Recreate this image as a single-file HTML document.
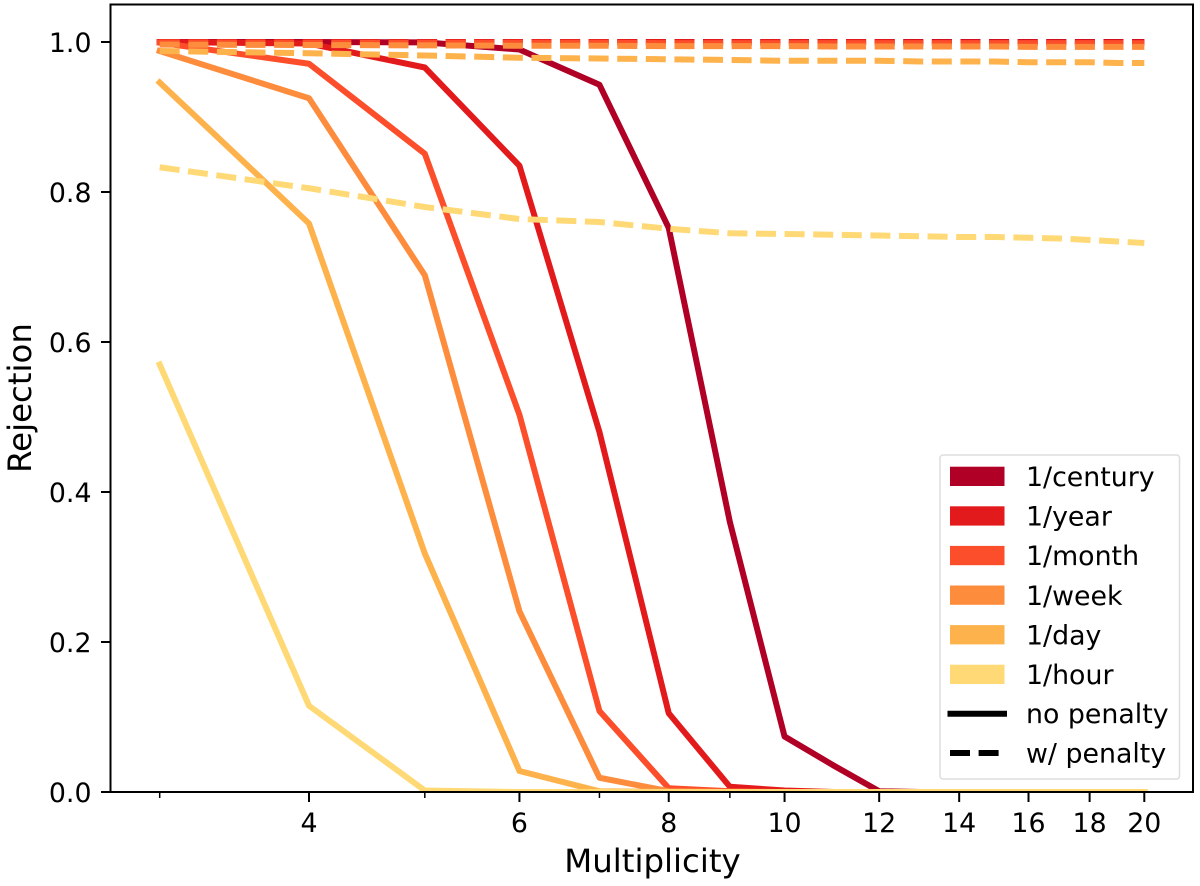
<!DOCTYPE html>
<html>
<head>
<meta charset="utf-8">
<title>Rejection vs Multiplicity</title>
<style>
html,body{margin:0;padding:0;background:#fff;}
svg{display:block;}
text{font-family:"DejaVu Sans",sans-serif;fill:#000;}
</style>
</head>
<body>
<svg id="chart" xmlns="http://www.w3.org/2000/svg" width="1200" height="886" viewBox="0 0 1200 886">
  <defs><clipPath id="plot-clip"><rect x="110.5" y="4.5" width="1082.5" height="787.5"/></clipPath></defs>
  <g id="series" clip-path="url(#plot-clip)"></g>
  <g id="ticks"></g>
  <rect x="110.5" y="4.5" width="1082.5" height="787.5" fill="none" stroke="#000" stroke-width="2"/>
  <text x="652.5" y="872" font-size="32.4" text-anchor="middle">Multiplicity</text>
  <text transform="translate(31,398) rotate(-90)" font-size="32.4" text-anchor="middle">Rejection</text>
  <g>
    <rect x="940" y="455" width="239.5" height="324" rx="3" fill="#fff" fill-opacity="0.8" stroke="#ddd" stroke-width="1.5"/>
    <g><rect x="950" y="466.7" width="54.5" height="19.3" fill="#b10026"/><text x="1026" y="486" font-size="26.8">1/century</text></g>
    <g><rect x="950" y="506.3" width="54.5" height="19.3" fill="#e31a1c"/><text x="1026" y="525.6" font-size="26.8">1/year</text></g>
    <g><rect x="950" y="545.9" width="54.5" height="19.3" fill="#fc4e2a"/><text x="1026" y="565.2" font-size="26.8">1/month</text></g>
    <g><rect x="950" y="585.5" width="54.5" height="19.3" fill="#fd8d3c"/><text x="1026" y="604.8" font-size="26.8">1/week</text></g>
    <g><rect x="950" y="625.1" width="54.5" height="19.3" fill="#feb24c"/><text x="1026" y="644.4" font-size="26.8">1/day</text></g>
    <g><rect x="950" y="664.7" width="54.5" height="19.3" fill="#fed976"/><text x="1026" y="684" font-size="26.8">1/hour</text></g>
    <g><line x1="947.5" x2="1007" y1="713.7" y2="713.7" stroke="#000" stroke-width="6"/><text x="1026" y="723" font-size="26.8">no penalty</text></g>
    <g><line x1="950" x2="999" y1="753" y2="753" stroke="#000" stroke-width="6" stroke-dasharray="20 8.6"/><text x="1026" y="762.5" font-size="26.8">w/ penalty</text></g>
  </g>
</svg>
<script>
const multiplicity = [3,4,5,6,7,8,9,10,11,12,13,14,15,16,17,18,19,20];
const seriesNames = ["century","year","month","week","day","hour"];
const seriesColors = ["#b10026","#e31a1c","#fc4e2a","#fd8d3c","#feb24c","#fed976"];
const noPenaltyCentury = [1,1,0.9995,0.99,0.943,0.752,0.36,0.074,0.035,0.001,0,0,0,0,0,0,0,0];
const noPenaltyYear = [1,0.998,0.966,0.835,0.48,0.105,0.007,0.002,0,0,0,0,0,0,0,0,0,0];
const noPenaltyMonth = [0.999,0.971,0.851,0.503,0.108,0.005,0.001,0,0,0,0,0,0,0,0,0,0,0];
const noPenaltyWeek = [0.988,0.925,0.689,0.241,0.019,0.001,0,0,0,0,0,0,0,0,0,0,0,0];
const noPenaltyDay = [0.946,0.758,0.318,0.028,0.001,0,0,0,0,0,0,0,0,0,0,0,0,0];
const noPenaltyHour = [0.57,0.115,0.002,0,0,0,0,0,0,0,0,0,0,0,0,0,0,0];
const penaltyCentury = [1,1,1,1,1,1,1,1,1,1,1,1,1,1,1,1,1,1];
const penaltyYear = [1,1,1,1,1,1,1,1,1,1,0.9995,0.9995,0.9995,0.9995,0.9995,0.9995,0.9995,0.9995];
const penaltyMonth = [0.9995,0.999,0.999,0.999,0.999,0.9985,0.9985,0.9985,0.9985,0.9985,0.9985,0.9985,0.9985,0.9985,0.9985,0.9985,0.9985,0.9983];
const penaltyWeek = [0.9965,0.996,0.9955,0.995,0.995,0.9945,0.9945,0.9945,0.994,0.994,0.994,0.994,0.994,0.9935,0.9935,0.9935,0.9935,0.9935];
const penaltyDay = [0.988,0.985,0.982,0.979,0.978,0.977,0.976,0.975,0.975,0.975,0.974,0.974,0.974,0.973,0.973,0.973,0.972,0.972];
const penaltyHour = [0.833,0.805,0.78,0.764,0.76,0.751,0.745,0.744,0.743,0.742,0.741,0.74,0.74,0.739,0.738,0.736,0.734,0.732];
const xMajorTicks = [4,6,8,10,12,14,16,18,20];
const xMinorTicks = [3,5,7,9];
const yTicks = [0,0.2,0.4,0.6,0.8,1];
const yTickLabels = ["0.0","0.2","0.4","0.6","0.8","1.0"];

const NS = "http://www.w3.org/2000/svg";
function xScale(v){ return 309 + 519 * Math.log(v / 4); }
function yScale(v){ return 792 - 750 * v; }
function pathFor(values){
  return multiplicity.map(function(m, i){
    return (i ? "L" : "M") + xScale(m).toFixed(2) + " " + yScale(values[i]).toFixed(2);
  }).join(" ");
}
const seriesLayer = document.getElementById("series");
const tickLayer = document.getElementById("ticks");
const solidSets = [noPenaltyCentury,noPenaltyYear,noPenaltyMonth,noPenaltyWeek,noPenaltyDay,noPenaltyHour];
const dashSets = [penaltyCentury,penaltyYear,penaltyMonth,penaltyWeek,penaltyDay,penaltyHour];
seriesNames.forEach(function(name, i){
  const solid = document.createElementNS(NS, "path");
  
  
  solid.setAttribute("d", pathFor(solidSets[i]));
  solid.setAttribute("fill", "none");
  solid.setAttribute("stroke", seriesColors[i]);
  solid.setAttribute("stroke-width", "6");
  solid.setAttribute("stroke-linecap", "square");
  solid.setAttribute("stroke-linejoin", "round");
  seriesLayer.appendChild(solid);
  const dashed = document.createElementNS(NS, "path");
  
  
  dashed.setAttribute("d", pathFor(dashSets[i]));
  dashed.setAttribute("fill", "none");
  dashed.setAttribute("stroke", seriesColors[i]);
  dashed.setAttribute("stroke-width", "6");
  dashed.setAttribute("stroke-dasharray", "20 8.6");
  dashed.setAttribute("stroke-linejoin", "round");
  seriesLayer.appendChild(dashed);
});
function addTick(x1, y1, x2, y2, width, label){
  const t = document.createElementNS(NS, "line");
  
  
  t.setAttribute("x1", x1); t.setAttribute("y1", y1);
  t.setAttribute("x2", x2); t.setAttribute("y2", y2);
  t.setAttribute("stroke", "#000");
  t.setAttribute("stroke-width", width);
  tickLayer.appendChild(t);
}
function addLabel(x, y, anchor, str, label){
  const t = document.createElementNS(NS, "text");
  
  
  t.setAttribute("x", x); t.setAttribute("y", y);
  t.setAttribute("text-anchor", anchor);
  t.setAttribute("font-size", "26.8");
  t.textContent = str;
  tickLayer.appendChild(t);
}
xMajorTicks.forEach(function(v){
  addTick(xScale(v), 792, xScale(v), 802, 2, "x-major-tick-" + v);
  addLabel(xScale(v), 832, "middle", String(v), "x-tick-label-" + v);
});
xMinorTicks.forEach(function(v){
  addTick(xScale(v), 792, xScale(v), 798, 1.5, "x-minor-tick-" + v);
});
yTicks.forEach(function(v, i){
  addTick(101, yScale(v), 110.5, yScale(v), 2, "y-tick-" + yTickLabels[i]);
  addLabel(91.5, yScale(v) + 10, "end", yTickLabels[i], "y-tick-label-" + yTickLabels[i]);
});
</script>
</body>
</html>
